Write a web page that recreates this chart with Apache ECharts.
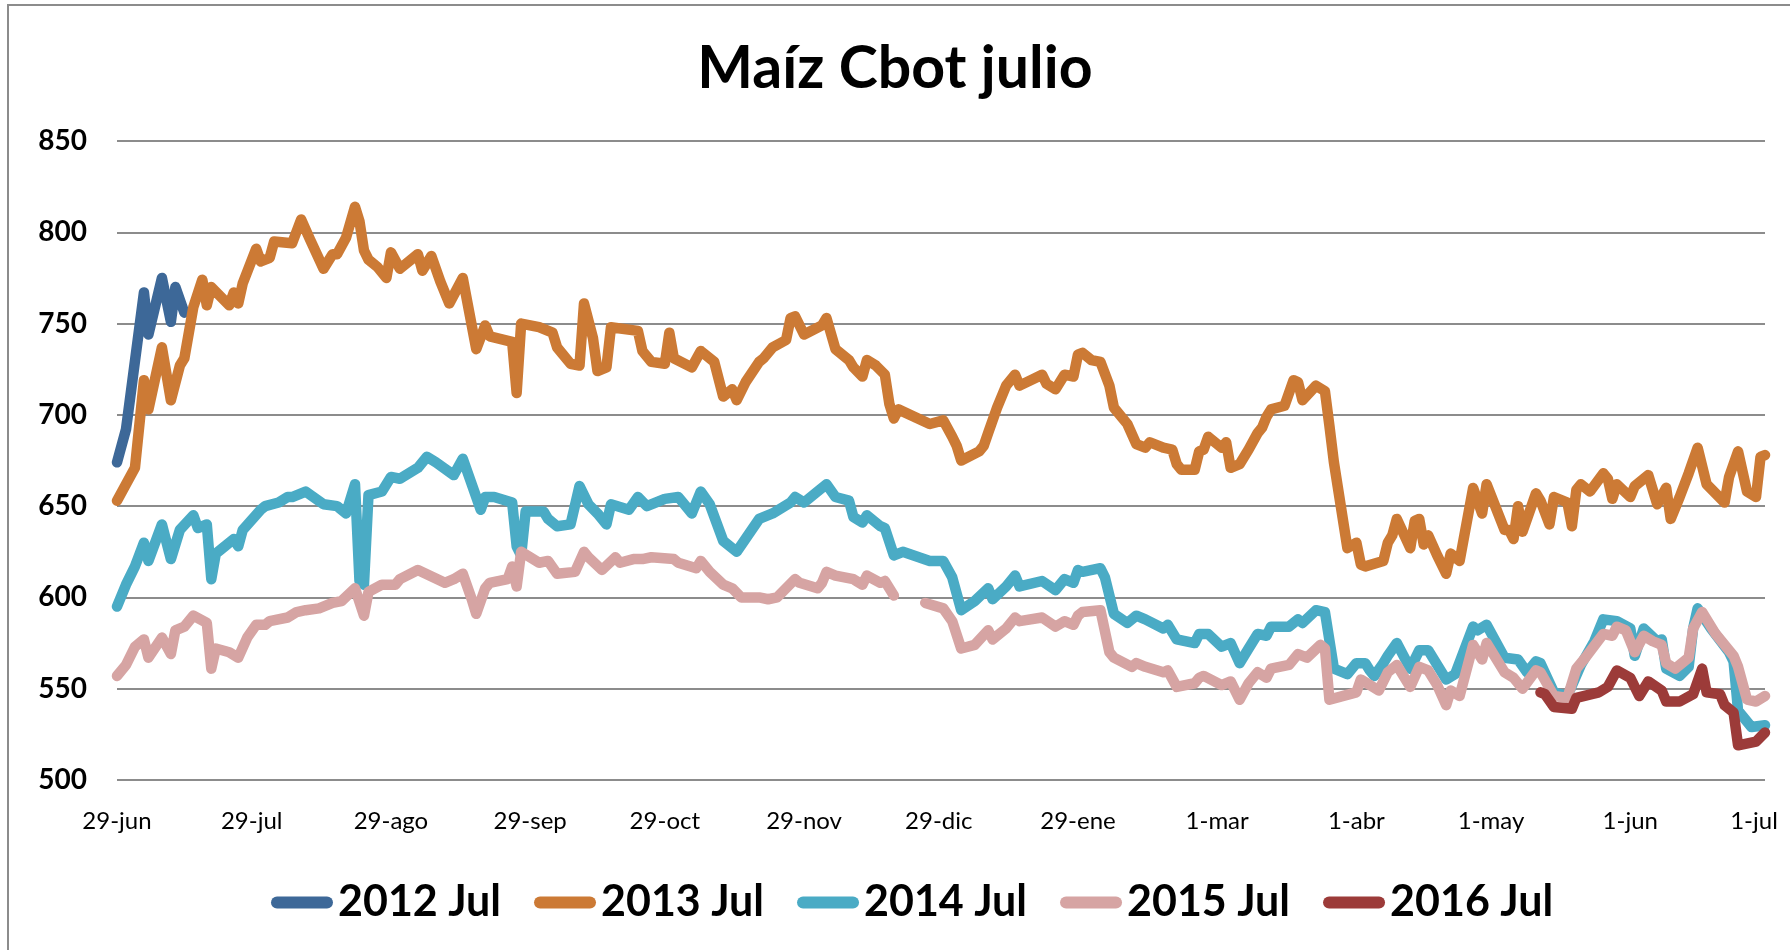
<!DOCTYPE html>
<html>
<head>
<meta charset="utf-8">
<script src="https://cdn.jsdelivr.net/npm/echarts@6/dist/echarts.min.js"></script>
<style>
html,body{margin:0;padding:0;background:#fff;}
#chart{width:1790px;height:950px;}
</style>
</head>
<body>
<div id="chart"></div>
<script>
// ---- Axis ticks (day offsets from 29-jun) ----
const tickDays = [0, 30, 61, 92, 122, 153, 183, 214, 245, 276, 306, 337, 367];
const tickLabels = ['29-jun', '29-jul', '29-ago', '29-sep', '29-oct', '29-nov', '29-dic', '29-ene', '1-mar', '1-abr', '1-may', '1-jun', '1-jul'];

const seriesNames = ['2012 Jul', '2013 Jul', '2014 Jul', '2015 Jul', '2016 Jul'];

// ---- 2012 Jul ----
const days2012 = [0, 2, 6, 7, 10, 12, 13, 15];
const vals2012 = [674, 692, 767, 744, 775, 751, 770, 756];

// ---- 2013 Jul ----
const days2013 = [0, 4, 6, 7, 10, 12, 14, 15, 17, 19, 20, 21, 25, 26, 27, 28, 31, 32, 34, 35, 39, 41, 43, 46, 48, 49, 51, 53, 54, 55, 56, 58, 60, 61, 63, 67, 68, 70, 72, 74, 77, 80, 82, 83, 88, 89, 90, 94, 97, 98, 101, 103, 104, 106, 107, 109, 110, 116, 117, 119, 122, 123, 124, 128, 130, 133, 135, 137, 138, 140, 143, 144, 146, 149, 150, 151, 153, 157, 158, 160, 163, 164, 166, 167, 169, 171, 172, 173, 174, 181, 184, 186, 187, 188, 192, 193, 194, 195, 196, 198, 200, 201, 206, 207, 209, 211, 213, 214, 215, 217, 219, 221, 222, 225, 227, 229, 230, 233, 235, 236, 237, 240, 241, 242, 243, 246, 247, 248, 250, 252, 254, 255, 256, 257, 260, 262, 263, 264, 267, 269, 270, 271, 274, 276, 277, 278, 282, 283, 284, 285, 288, 289, 290, 291, 292, 294, 296, 297, 299, 302, 304, 305, 309, 310, 311, 312, 313, 316, 317, 319, 320, 323, 324, 325, 326, 328, 331, 332, 333, 334, 337, 338, 341, 343, 345, 346, 348, 350, 352, 354, 358, 359, 361, 363, 365, 366, 367];
const vals2013 = [653, 671, 719, 703, 737, 708, 727, 731, 759, 774, 760, 770, 760, 767, 761, 772, 791, 784, 786, 795, 794, 807, 796, 780, 788, 788, 797, 814, 806, 790, 785, 781, 775, 789, 780, 788, 779, 787, 773, 761, 775, 736, 749, 743, 740, 712, 750, 748, 745, 737, 728, 727, 761, 742, 724, 726, 748, 746, 735, 729, 728, 745, 731, 726, 735, 729, 710, 714, 708, 718, 729, 731, 737, 741, 753, 754, 744, 749, 753, 736, 730, 726, 721, 730, 727, 722, 706, 698, 703, 695, 697, 688, 683, 675, 680, 683, 690, 697, 704, 716, 722, 716, 722, 717, 714, 722, 721, 733, 734, 730, 729, 716, 704, 695, 684, 682, 685, 682, 681, 673, 670, 670, 680, 681, 688, 682, 685, 671, 673, 681, 690, 693, 699, 703, 705, 719, 718, 708, 716, 713, 694, 674, 627, 630, 618, 617, 620, 630, 634, 643, 627, 642, 643, 629, 634, 623, 613, 624, 620, 660, 646, 662, 637, 637, 632, 650, 636, 657, 653, 640, 655, 652, 639, 659, 662, 658, 668, 665, 654, 662, 655, 661, 667, 651, 660, 643, 655, 668, 682, 662, 652, 666, 680, 658, 655, 677, 678];

// ---- 2014 Jul ----
const days2014 = [0, 2, 4, 6, 7, 10, 12, 14, 17, 18, 20, 21, 22, 24, 26, 27, 28, 32, 33, 36, 38, 39, 42, 46, 49, 51, 53, 54, 55, 56, 59, 61, 63, 67, 69, 71, 75, 77, 81, 82, 84, 88, 89, 90, 91, 95, 96, 98, 101, 103, 105, 107, 109, 110, 114, 116, 118, 122, 125, 128, 130, 132, 135, 138, 143, 146, 150, 151, 153, 156, 158, 160, 163, 164, 166, 167, 170, 171, 173, 175, 181, 184, 186, 188, 191, 194, 195, 198, 200, 201, 206, 209, 211, 213, 214, 215, 219, 220, 222, 225, 227, 229, 233, 234, 236, 240, 241, 243, 246, 248, 250, 252, 254, 256, 257, 261, 263, 264, 267, 269, 271, 274, 276, 278, 279, 280, 282, 283, 285, 288, 290, 292, 296, 298, 302, 303, 305, 309, 312, 314, 316, 317, 320, 323, 326, 329, 331, 334, 337, 338, 340, 343, 344, 345, 348, 350, 351, 352, 355, 359, 360, 361, 364, 367];
const vals2014 = [595, 607, 617, 630, 620, 640, 621, 637, 645, 638, 640, 610, 624, 628, 632, 628, 637, 648, 650, 652, 655, 655, 658, 651, 650, 646, 662, 609, 607, 656, 658, 666, 665, 671, 677, 674, 667, 676, 648, 655, 655, 652, 628, 623, 647, 647, 643, 639, 640, 661, 651, 646, 640, 651, 648, 655, 650, 654, 655, 646, 658, 651, 631, 625, 643, 646, 652, 655, 652, 658, 662, 655, 653, 644, 641, 645, 639, 638, 623, 625, 620, 620, 611, 593, 598, 605, 599, 606, 612, 606, 609, 604, 610, 608, 615, 614, 616, 611, 591, 586, 590, 588, 583, 585, 577, 575, 580, 580, 573, 575, 564, 572, 580, 579, 584, 584, 588, 586, 593, 592, 561, 558, 564, 564, 560, 557, 564, 568, 575, 561, 571, 571, 555, 558, 584, 582, 585, 567, 566, 559, 565, 564, 548, 546, 563, 576, 588, 587, 583, 568, 583, 576, 577, 561, 557, 562, 583, 594, 583, 570, 565, 538, 529, 530];

// ---- 2015 Jul (null = no quotes) ----
const days2015 = [0, 2, 4, 6, 7, 10, 12, 13, 15, 17, 20, 21, 22, 25, 27, 29, 31, 33, 34, 38, 40, 42, 45, 48, 50, 53, 55, 56, 59, 62, 63, 67, 73, 75, 77, 79, 80, 82, 83, 87, 88, 89, 90, 94, 96, 98, 102, 104, 105, 108, 111, 112, 115, 117, 119, 124, 125, 129, 130, 132, 135, 137, 139, 143, 145, 147, 151, 152, 156, 157, 158, 160, 164, 166, 167, 170, 171, 173, 176, 180, 184, 186, 188, 191, 194, 195, 198, 200, 201, 206, 209, 211, 213, 214, 215, 219, 221, 222, 226, 227, 229, 233, 234, 236, 240, 241, 242, 246, 248, 250, 252, 254, 256, 257, 261, 263, 265, 268, 269, 270, 276, 277, 281, 283, 285, 288, 290, 292, 294, 296, 297, 299, 302, 304, 305, 309, 311, 313, 316, 317, 320, 323, 325, 327, 331, 333, 334, 336, 338, 340, 342, 344, 345, 347, 350, 351, 353, 356, 360, 361, 363, 365, 367];
const vals2015 = [557, 563, 573, 577, 567, 578, 569, 582, 584, 590, 586, 561, 572, 570, 567, 578, 585, 585, 587, 589, 592, 593, 594, 597, 598, 605, 590, 603, 607, 607, 610, 615, 608, 610, 613, 599, 591, 605, 608, 610, 617, 606, 625, 619, 620, 613, 614, 625, 622, 615, 622, 619, 621, 621, 622, 621, 619, 616, 620, 614, 607, 605, 600, 600, 599, 600, 610, 608, 605, 608, 614, 612, 610, 607, 612, 608, 609, 601, null, 597, 594, 587, 572, 574, 582, 577, 583, 589, 587, 589, 584, 587, 585, 590, 592, 593, 570, 567, 562, 564, 562, 559, 560, 551, 553, 556, 557, 552, 554, 544, 553, 559, 556, 561, 563, 569, 567, 574, 572, 544, 548, 555, 549, 559, 563, 551, 562, 560, 552, 541, 549, 546, 574, 566, 575, 559, 556, 550, 560, 559, 546, 545, 561, 567, 580, 579, 584, 582, 570, 579, 576, 574, 564, 561, 567, 583, 592, 580, 568, 562, 544, 543, 546];

// ---- 2016 Jul ----
const days2016 = [317, 318, 320, 324, 325, 330, 332, 334, 337, 339, 341, 344, 345, 348, 351, 353, 354, 357, 358, 360, 361, 365, 367];
const vals2016 = [548, 547, 540, 539, 545, 548, 551, 560, 556, 546, 554, 549, 543, 543, 547, 561, 548, 547, 541, 537, 519, 521, 526];

const colors = ['#3D6898', '#CC7A35', '#4AABC5', '#D6A4A3', '#9C3B39'];
const allDays = [days2012, days2013, days2014, days2015, days2016];
const allVals = [vals2012, vals2013, vals2014, vals2015, vals2016];

const FONT = 'Lato, "Open Sans", sans-serif';
const capsule = 'path://M6,0 L56,0 A6,6 0 0 1 56,12 L6,12 A6,6 0 0 1 6,0 Z';

const series = seriesNames.map(function (name, i) {
  return {
    name: name,
    type: 'line',
    data: allDays[i].map(function (d, k) { return [d, allVals[i][k]]; }),
    showSymbol: false,
    symbol: 'none',
    connectNulls: false,
    smooth: false,
    animation: false,
    lineStyle: { width: 10.5, color: colors[i], cap: 'round', join: 'round' },
    itemStyle: { color: colors[i] },
    z: 2 + i
  };
});

const labelMap = {};
tickDays.forEach(function (d, i) { labelMap[d] = tickLabels[i]; });

const chart = echarts.init(document.getElementById('chart'), null, { renderer: 'canvas' });
chart.setOption({
  animation: false,
  backgroundColor: '#ffffff',
  color: colors,
  title: {
    text: 'Maíz Cbot julio',
    left: 'center',
    top: 34,
    textStyle: { fontFamily: FONT, fontWeight: 'bold', fontSize: 59, color: '#000' }
  },
  graphic: [{
    type: 'rect',
    shape: { x: 8, y: 5, width: 1800, height: 1000 },
    style: { fill: 'none', stroke: '#8C8C8C', lineWidth: 2 },
    silent: true,
    z: 0
  }],
  grid: { left: 117, right: 25, top: 141, bottom: 170, containLabel: false },
  legend: {
    data: seriesNames,
    left: 266,
    top: 876,
    icon: capsule,
    itemWidth: 62,
    itemHeight: 12,
    itemGap: 33,
    textStyle: { fontFamily: FONT, fontWeight: 'bold', fontSize: 43, color: '#000' }
  },
  xAxis: {
    type: 'value',
    min: 0,
    max: 367,
    splitLine: { show: false },
    axisLine: { show: false },
    axisTick: { show: false },
    axisLabel: {
      customValues: tickDays,
      margin: 29,
      fontFamily: FONT,
      fontSize: 24,
      color: '#000',
      formatter: function (v) {
        const t = labelMap[Math.round(v)];
        if (t === undefined) return '';
        return v === 367 ? '{last|' + t + '}' : t;
      },
      rich: { last: { fontFamily: FONT, fontSize: 24, color: '#000', padding: [0, 22, 0, 0] } }
    }
  },
  yAxis: {
    type: 'value',
    min: 500,
    max: 850,
    interval: 50,
    axisLine: { show: false },
    axisTick: { show: false },
    splitLine: { show: true, lineStyle: { color: '#8C8C8C', width: 2 } },
    axisLabel: { margin: 30, fontFamily: FONT, fontWeight: 'bold', fontSize: 28, color: '#000' }
  },
  series: series
});
</script>
</body>
</html>
